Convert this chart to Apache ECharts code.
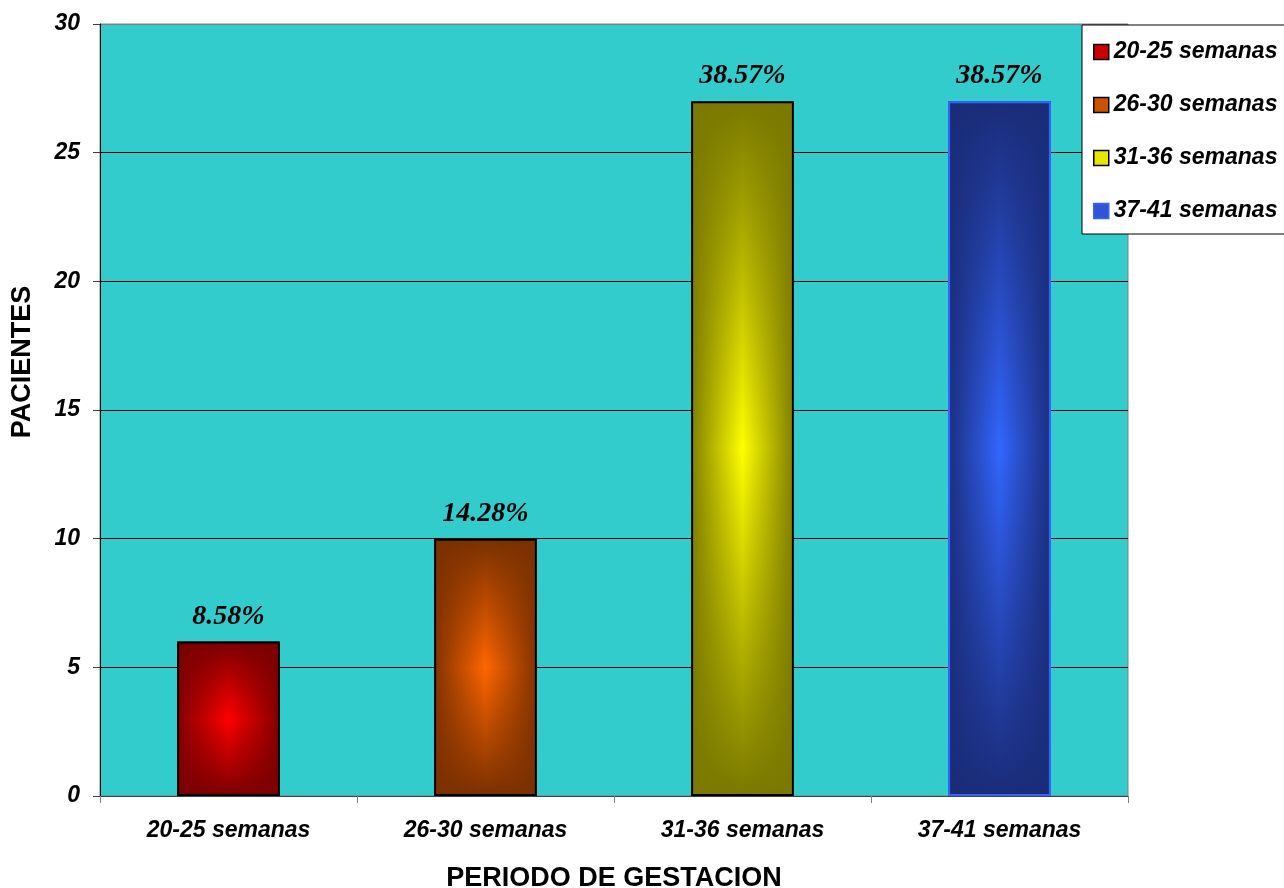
<!DOCTYPE html>
<html>
<head>
<meta charset="utf-8">
<script src="https://cdn.jsdelivr.net/npm/echarts@6/dist/echarts.min.js"></script>
<style>
html,body{margin:0;padding:0;background:#fff;}
#chart{width:1284px;height:888px;}
</style>
</head>
<body>
<div id="chart"></div>
<script>
const categories = ['20-25 semanas', '26-30 semanas', '31-36 semanas', '37-41 semanas'];
const pacientes = [6, 10, 27, 27];
const porcentajes = ['8.58%', '14.28%', '38.57%', '38.57%'];
const yMin = 0, yMax = 30, yStep = 5;
const centerColors = ['#FF0000', '#FF6600', '#FFFF00', '#3366FF'];
const edgeColors = ['#7A0000', '#7A3000', '#7A7800', '#1A2C78'];
const edgeRGB = ['122,0,0', '122,48,0', '122,120,0', '26,44,120'];
const borderColors = ['#000000', '#000000', '#000000', '#3366FF'];
const legendColors = ['#CC0000', '#CC5200', '#E6E600', '#2F55D4'];

const SANS = 'Arial, "Liberation Sans", sans-serif';
const SERIF = '"Times New Roman", "Liberation Serif", serif';

const chart = echarts.init(document.getElementById('chart'), null, {renderer: 'canvas'});

const mainSeries = categories.map((name, i) => ({
  name: name,
  type: 'bar',
  barWidth: '40%',
  barGap: '-100%',
  data: categories.map((c, j) => j === i ? pacientes[j] : '-'),
  itemStyle: {
    color: {
      type: 'linear', x: 0, y: 0, x2: 0, y2: 1,
      colorStops: [
        {offset: 0, color: edgeColors[i]},
        {offset: 0.5, color: centerColors[i]},
        {offset: 1, color: edgeColors[i]}
      ]
    }
  },
  emphasis: {disabled: true}
}));

const overlay = {
  name: 'overlay',
  type: 'bar',
  barWidth: '40%',
  barGap: '-100%',
  data: pacientes.map((v, i) => ({
    value: v,
    itemStyle: {
      color: {
        type: 'linear', x: 0, y: 0, x2: 1, y2: 0,
        colorStops: [
          {offset: 0, color: 'rgba(' + edgeRGB[i] + ',0.95)'},
          {offset: 0.5, color: 'rgba(' + edgeRGB[i] + ',0)'},
          {offset: 1, color: 'rgba(' + edgeRGB[i] + ',0.95)'}
        ]
      },
      borderColor: borderColors[i],
      borderWidth: 2
    }
  })),
  label: {
    show: true,
    position: 'top',
    distance: 11,
    formatter: p => porcentajes[p.dataIndex],
    fontFamily: SERIF,
    fontWeight: 'bold',
    fontStyle: 'italic',
    fontSize: 28,
    color: '#000'
  },
  emphasis: {disabled: true}
};

const option = {
  animation: false,
  backgroundColor: '#ffffff',
  grid: {
    left: 100, right: 156, top: 24, bottom: 92,
    outerBoundsMode: 'none',
    containLabel: false,
    show: true, backgroundColor: '#33CCCC',
    borderColor: '#808080', borderWidth: 1
  },
  legend: {
    left: 1082, top: 25,
    orient: 'vertical',
    backgroundColor: '#ffffff',
    borderColor: '#000000', borderWidth: 1,
    padding: [15, 10, 11, 11],
    itemGap: 29,
    itemWidth: 15, itemHeight: 15,
    selectedMode: false,
    textStyle: {fontFamily: SANS, fontWeight: 'bold', fontStyle: 'italic', fontSize: 23, color: '#000', lineHeight: 24},
    data: categories.map((name, i) => ({
      name: name,
      icon: 'rect',
      itemStyle: {color: legendColors[i], borderColor: i === 3 ? '#3366FF' : '#000', borderWidth: 1.5}
    }))
  },
  xAxis: {
    type: 'category',
    data: categories,
    name: 'PERIODO DE GESTACION',
    nameLocation: 'middle',
    nameGap: 69,
    nameTextStyle: {fontFamily: SANS, fontWeight: 'bold', fontSize: 27, color: '#000'},
    axisLine: {show: true, lineStyle: {color: '#404040', width: 1}},
    axisTick: {show: true, length: 7, lineStyle: {color: '#808080'}},
    axisLabel: {fontFamily: SANS, fontWeight: 'bold', fontStyle: 'italic', fontSize: 23, color: '#000', margin: 23},
    splitLine: {show: false}
  },
  yAxis: {
    type: 'value',
    min: yMin, max: yMax, interval: yStep,
    axisLine: {show: true, lineStyle: {color: '#000', width: 1}},
    axisTick: {show: true, length: 7, lineStyle: {color: '#404040'}},
    axisLabel: {fontFamily: SANS, fontWeight: 'bold', fontStyle: 'italic', fontSize: 23, color: '#000', margin: 20},
    splitLine: {show: true, lineStyle: {color: ['#000', '#000', '#000', '#000', '#000', '#000', '#808080'], width: 1}}
  },
  graphic: [{
    type: 'text',
    x: 23, y: 362,
    rotation: Math.PI / 2,
    style: {text: 'PACIENTES', fontFamily: SANS, fontWeight: 'bold', fontSize: 27, fill: '#000', align: 'center', verticalAlign: 'middle'}
  }],
  series: mainSeries.concat([overlay])
};
chart.setOption(option);
</script>
</body>
</html>
